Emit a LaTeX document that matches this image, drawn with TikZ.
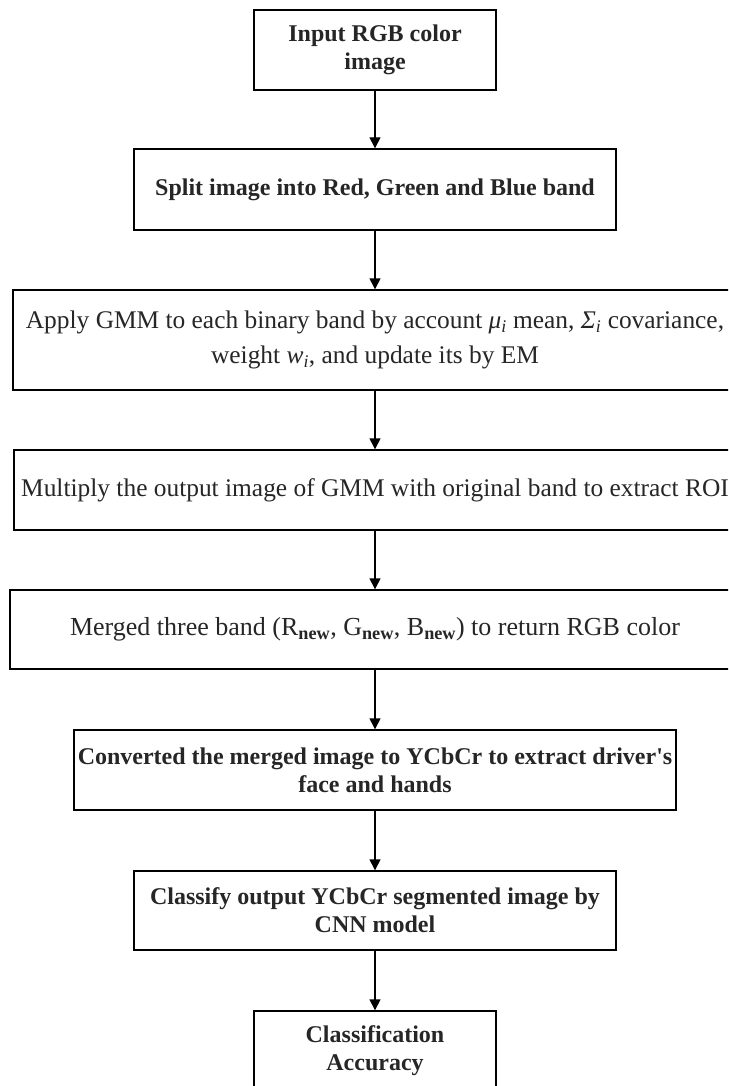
\documentclass[tikz,border=0pt]{standalone}
\usepackage{fontspec}
\setmainfont{Liberation Serif}
\usetikzlibrary{arrows.meta}
\tikzset{
  box/.style={draw=black, line width=1.4pt, fill=white, inner sep=0pt, align=center, text=black!85},
  bfont/.style={font=\fontsize{24}{28}\selectfont\bfseries},
  rfont/.style={font=\fontsize{25.4}{35}\selectfont},
  flow/.style={draw=black, line width=1.4pt, -{Triangle[length=11pt,width=11pt]}},
}
\begin{document}
\begin{tikzpicture}[x=1pt,y=-1pt]
\useasboundingbox (0,0) rectangle (728,1086);
\fill[white] (0,0) rectangle (728,1086);
\clip (0,0) rectangle (728,1086);
\node[box,bfont,minimum width=242pt,minimum height=80pt] (n1) at (375,50) {Input RGB color\\image};
\node[box,bfont,minimum width=482pt,minimum height=81pt] (n2) at (375,189.5) {Split image into Red, Green and Blue band};
\node[box,rfont,minimum width=724pt,minimum height=100pt] (n3) at (375,340) {Apply GMM to each binary band by account \textit{μ}\textsubscript{\textit{i}} mean, \textit{Σ}\textsubscript{\textit{i}} covariance,\\weight \textit{w}\textsubscript{\textit{i}}, and update its by EM};
\node[box,rfont,minimum width=722pt,minimum height=80pt] (n4) at (375,490) {Multiply the output image of GMM with original band to extract ROI};
\node[box,font=\fontsize{26}{35}\selectfont,minimum width=730pt,minimum height=79pt] (n5) at (375,629.5) {Merged three band (R\textsubscript{\textbf{new}}, G\textsubscript{\textbf{new}}, B\textsubscript{\textbf{new}}) to return RGB color};
\node[box,bfont,minimum width=602pt,minimum height=80pt] (n6) at (375,770) {Converted the merged image to YCbCr to extract driver\textquotesingle s\\face and hands};
\node[box,bfont,minimum width=482pt,minimum height=79pt] (n7) at (375,910.5) {Classify output YCbCr segmented image by\\CNN model};
\node[box,bfont,minimum width=242pt,minimum height=80pt] (n8) at (375,1051) {Classification\\Accuracy};
\draw[flow] (n1) -- (n2);
\draw[flow] (n2) -- (n3);
\draw[flow] (n3) -- (n4);
\draw[flow] (n4) -- (n5);
\draw[flow] (n5) -- (n6);
\draw[flow] (n6) -- (n7);
\draw[flow] (n7) -- (n8);
\end{tikzpicture}
\end{document}
